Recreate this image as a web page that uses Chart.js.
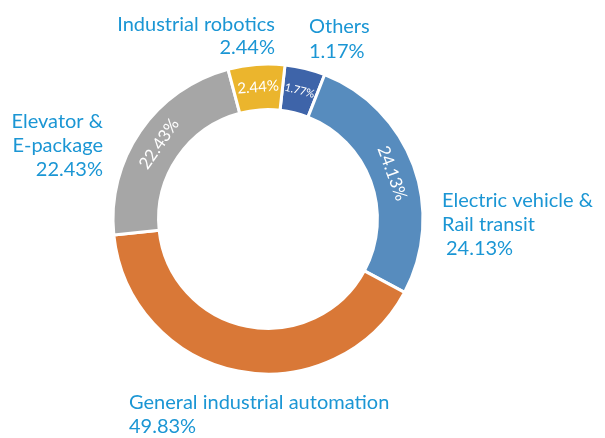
<!DOCTYPE html>
<html>
<head>
<meta charset="utf-8">
<script src="https://cdn.jsdelivr.net/npm/chart.js@4.4.1/dist/chart.umd.min.js"></script>
<style>
  html, body { margin: 0; padding: 0; background: #ffffff; }
  #wrap { width: 605px; height: 438px; position: relative; }
</style>
</head>
<body>
<div id="wrap"><canvas id="c" width="605" height="438"></canvas></div>
<script>
// ---- data ----
const categories = ['Others', 'Electric vehicle & Rail transit', 'General industrial automation', 'Elevator & E-package', 'Industrial robotics'];
// arc sizes as drawn in the picture (share of the full ring, %)
const sliceShares = [4.2, 26.9, 40.5, 22.5, 5.9];
// percentages printed inside the ring
const innerLabels = ['1.77%', '24.13%', '', '22.43%', '2.44%'];
// percentages printed in the outside labels
const outerValues = ['1.17%', '24.13%', '49.83%', '22.43%', '2.44%'];
// outside label name lines
const outerNames = [['Others'], ['Electric vehicle &', 'Rail transit'], ['General industrial automation'], ['Elevator &', 'E-package'], ['Industrial robotics']];

// ---- styles ----
const colors = ['#3e64a9', '#578cbe', '#d97837', '#a6a6a6', '#ebb52d'];
const textColor = '#1b96d4';
const FONT = 'Lato, "Liberation Sans", sans-serif';

// outside label layout, relative to the ring centre
const outerLayout = [
  { dx: 41,  dy: -186, align: 'left',  lh: 25, vIndent: 0 },
  { dx: 174, dy: -12,  align: 'left',  lh: 24, vIndent: 4 },
  { dx: -139, dy: 190, align: 'left',  lh: 24, vIndent: 0 },
  { dx: -165, dy: -91, align: 'right', lh: 24, vIndent: 0 },
  { dx: 7,   dy: -188, align: 'right', lh: 23, vIndent: 0 }
];
const innerFontSizes = [11, 17, 16, 17, 15];

const labelPlugin = {
  id: 'labels',
  afterDatasetsDraw(chart) {
    const ctx = chart.ctx;
    const meta = chart.getDatasetMeta(0);
    ctx.save();
    meta.data.forEach((arc, i) => {
      const p = arc.getProps(['x', 'y', 'startAngle', 'endAngle', 'innerRadius', 'outerRadius'], true);
      if (innerLabels[i]) {
        const mid = (p.startAngle + p.endAngle) / 2;
        const r = (p.innerRadius + p.outerRadius) / 2;
        const lx = p.x + Math.cos(mid) * r;
        const ly = p.y + Math.sin(mid) * r;
        ctx.save();
        ctx.translate(lx, ly);
        ctx.rotate(mid + Math.PI / 2);
        ctx.fillStyle = '#ffffff';
        ctx.font = innerFontSizes[i] + 'px ' + FONT;
        ctx.textAlign = 'center';
        ctx.textBaseline = 'middle';
        ctx.fillText(innerLabels[i], 0, 0);
        ctx.restore();
      }
      const L = outerLayout[i];
      const x0 = p.x + L.dx;
      let y = p.y + L.dy;
      ctx.fillStyle = textColor;
      ctx.font = '20px ' + FONT;
      ctx.textAlign = L.align;
      ctx.textBaseline = 'alphabetic';
      outerNames[i].forEach(line => { ctx.fillText(line, x0, y); y += L.lh; });
      ctx.fillText(outerValues[i], x0 + L.vIndent, y);
    });
    ctx.restore();
  }
};

new Chart(document.getElementById('c'), {
  type: 'doughnut',
  data: {
    labels: categories,
    datasets: [{
      data: sliceShares,
      backgroundColor: colors,
      borderColor: '#ffffff',
      borderWidth: 3,
      hoverOffset: 0
    }]
  },
  options: {
    responsive: false,
    animation: false,
    rotation: 6.3,
    cutout: '70.6%',
    layout: { padding: { left: 111.5, right: 180.5, top: 62.5, bottom: 62.5 } },
    plugins: {
      legend: { display: false },
      tooltip: { enabled: false }
    }
  },
  plugins: [labelPlugin]
});
</script>
</body>
</html>
